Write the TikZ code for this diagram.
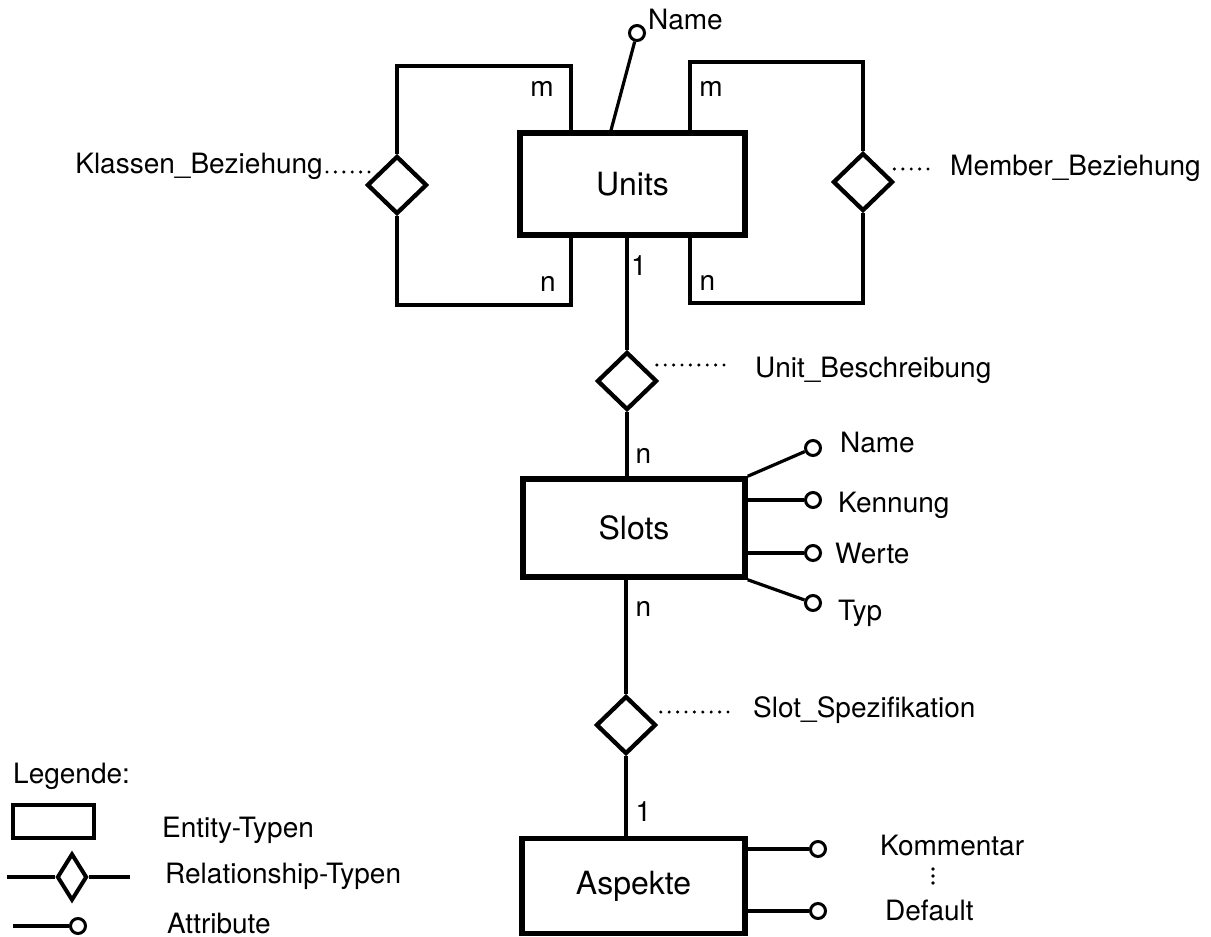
\documentclass[tikz,border=0pt]{standalone}
\usepackage{fontspec}
\setmainfont{TeX Gyre Heros}
\usetikzlibrary{shapes.geometric,calc}
\begin{document}
\begin{tikzpicture}[x=1pt,y=-1pt,
  entity/.style={draw, line width=5.5pt, inner sep=0pt, font=\fontsize{32}{36}\selectfont},
  relation/.style={draw, diamond, aspect=1, inner sep=0pt, line width=4.3pt,
                   minimum width=60pt, minimum height=58pt},
  attr/.style={draw, circle, inner sep=0pt, minimum size=15pt, line width=3pt, fill=white},
  conn/.style={line width=3.2pt},
  lbl/.style={font=\fontsize{28}{32}\selectfont, inner sep=0pt},
  leader/.style={line width=3.4pt, line cap=round, dash pattern=on 0pt off 8.4pt}]

\useasboundingbox[fill=white] (0,0) rectangle (1211,937);

% entities
\node[entity, minimum width=225pt, minimum height=102pt] (units) at (632.5,184) {Units};
\node[entity, minimum width=222pt, minimum height=98pt] (slots) at (634,528) {Slots};
\node[entity, minimum width=223pt, minimum height=95pt] (aspekte) at (633.5,886) {Aspekte};

% relationships
\node[relation] (kb) at (397,185) {};
\node[relation] (mb) at (863,182) {};
\node[relation] (ub) at (627,381) {};
\node[relation] (ss) at (626,725) {};

% recursive relationships of Units
\coordinate (ltop) at (571,66);
\coordinate (lbot) at (571,305);
\coordinate (rtop) at (690,62);
\coordinate (rbot) at (690,303);
\draw[conn] (kb.north) |- (ltop) -- (ltop |- units.north);
\draw[conn] (kb.south) |- (lbot) -- (lbot |- units.south);
\draw[conn] (mb.north) |- (rtop) -- (rtop |- units.north);
\draw[conn] (mb.south) |- (rbot) -- (rbot |- units.south);

% main chain
\draw[conn] (ub.north) -- (ub.north |- units.south);
\draw[conn] (ub.south) -- (ub.south |- slots.north);
\draw[conn] (ss.north) -- (ss.north |- slots.south);
\draw[conn] (ss.south) -- (ss.south |- aspekte.north);

% cardinalities
\node[lbl] (c1) at (542,89) {m};
\node[lbl] (c2) at (548,283.5) {n};
\node[lbl] (c3) at (711,89) {m};
\node[lbl] (c4) at (707.5,283) {n};
\node[lbl] (c5) at (639,266) {1};
\node[lbl] (c6) at (643.5,456) {n};
\node[lbl] (c7) at (643.5,609) {n};
\node[lbl] (c8) at (643.5,811.5) {1};

% relationship names
\node[lbl, anchor=base east] (kbl) at (323,173) {Klassen\_Beziehung};
\draw[leader] ($(kbl.base east)+(4,-1)$) -- ++(42,0);
\node[lbl, anchor=base west] (mbl) at (950,175) {Member\_Beziehung};
\draw[leader] ($(mbl.base west)+(-22,-6)$) -- ++(-33.6,0);
\node[lbl, anchor=base west] (ubl) at (755,377) {Unit\_Beschreibung};
\draw[leader] ($(ubl.base west)+(-31,-12)$) -- ++(-67.2,0);
\node[lbl, anchor=base west] (ssl) at (753,717) {Slot\_Spezifikation};
\draw[leader] ($(ssl.base west)+(-25,-5)$) -- ++(-67.2,0);

% attribute of Units
\node[attr] (uname) at (637,33) {};
\draw[conn] ($(units.north)+(-21.5,0)$) -- (uname);
\node[lbl, anchor=base west] (unamet) at (648,29) {Name};

% attributes of Slots
\node[attr] (sname) at (813,448) {};
\node[attr] (skenn) at (813,500) {};
\node[attr] (swert) at (813,553) {};
\node[attr] (styp)  at (813,603) {};
\draw[conn] (slots.north east) -- (sname);
\draw[conn] (slots.east |- skenn) -- (skenn);
\draw[conn] (slots.east |- swert) -- (swert);
\draw[conn] (slots.south east) -- (styp);
\node[lbl, anchor=base west] (snamet) at (840,452) {Name};
\node[lbl, anchor=base west] (skennt) at (838,512) {Kennung};
\node[lbl, anchor=base west] (swertt) at (835,563) {Werte};
\node[lbl, anchor=base west] (stypt)  at (838,620) {Typ};

% attributes of Aspekte
\node[attr] (akomm) at (818,849) {};
\node[attr] (adef)  at (818,911) {};
\draw[conn] (aspekte.east |- akomm) -- (akomm);
\draw[conn] (aspekte.east |- adef) -- (adef);
\node[lbl, anchor=base west] (akommt) at (880,855) {Kommentar};
\node[lbl, anchor=base west] (adeft)  at (885,920) {Default};
% vertical ellipsis between the attribute names
\foreach \yy in {869,876,883} \fill (933,\yy) circle (1.8pt);

% legend
\node[lbl, anchor=base west] (leg) at (13,783) {Legende:};
\node[draw, line width=3.5pt, minimum width=81pt, minimum height=33pt, inner sep=0pt] (legE) at (53.5,821.5) {};
\node[lbl, anchor=base west] (legEt) at (162,837) {Entity-Typen};
\node[relation, minimum width=30pt, minimum height=47pt, line width=4pt] (legR) at (72,877) {};
\draw[conn] (legR.west) -- ++(-48,0);
\draw[conn] (legR.east) -- ++(41,0);
\node[lbl, anchor=base west] (legRt) at (165,883) {Relationship-Typen};
\node[attr] (legA) at (78,926) {};
\draw[conn] (legA.west) -- ++(-56,0);
\node[lbl, anchor=base west] (legAt) at (167,933) {Attribute};
\end{tikzpicture}
\end{document}
